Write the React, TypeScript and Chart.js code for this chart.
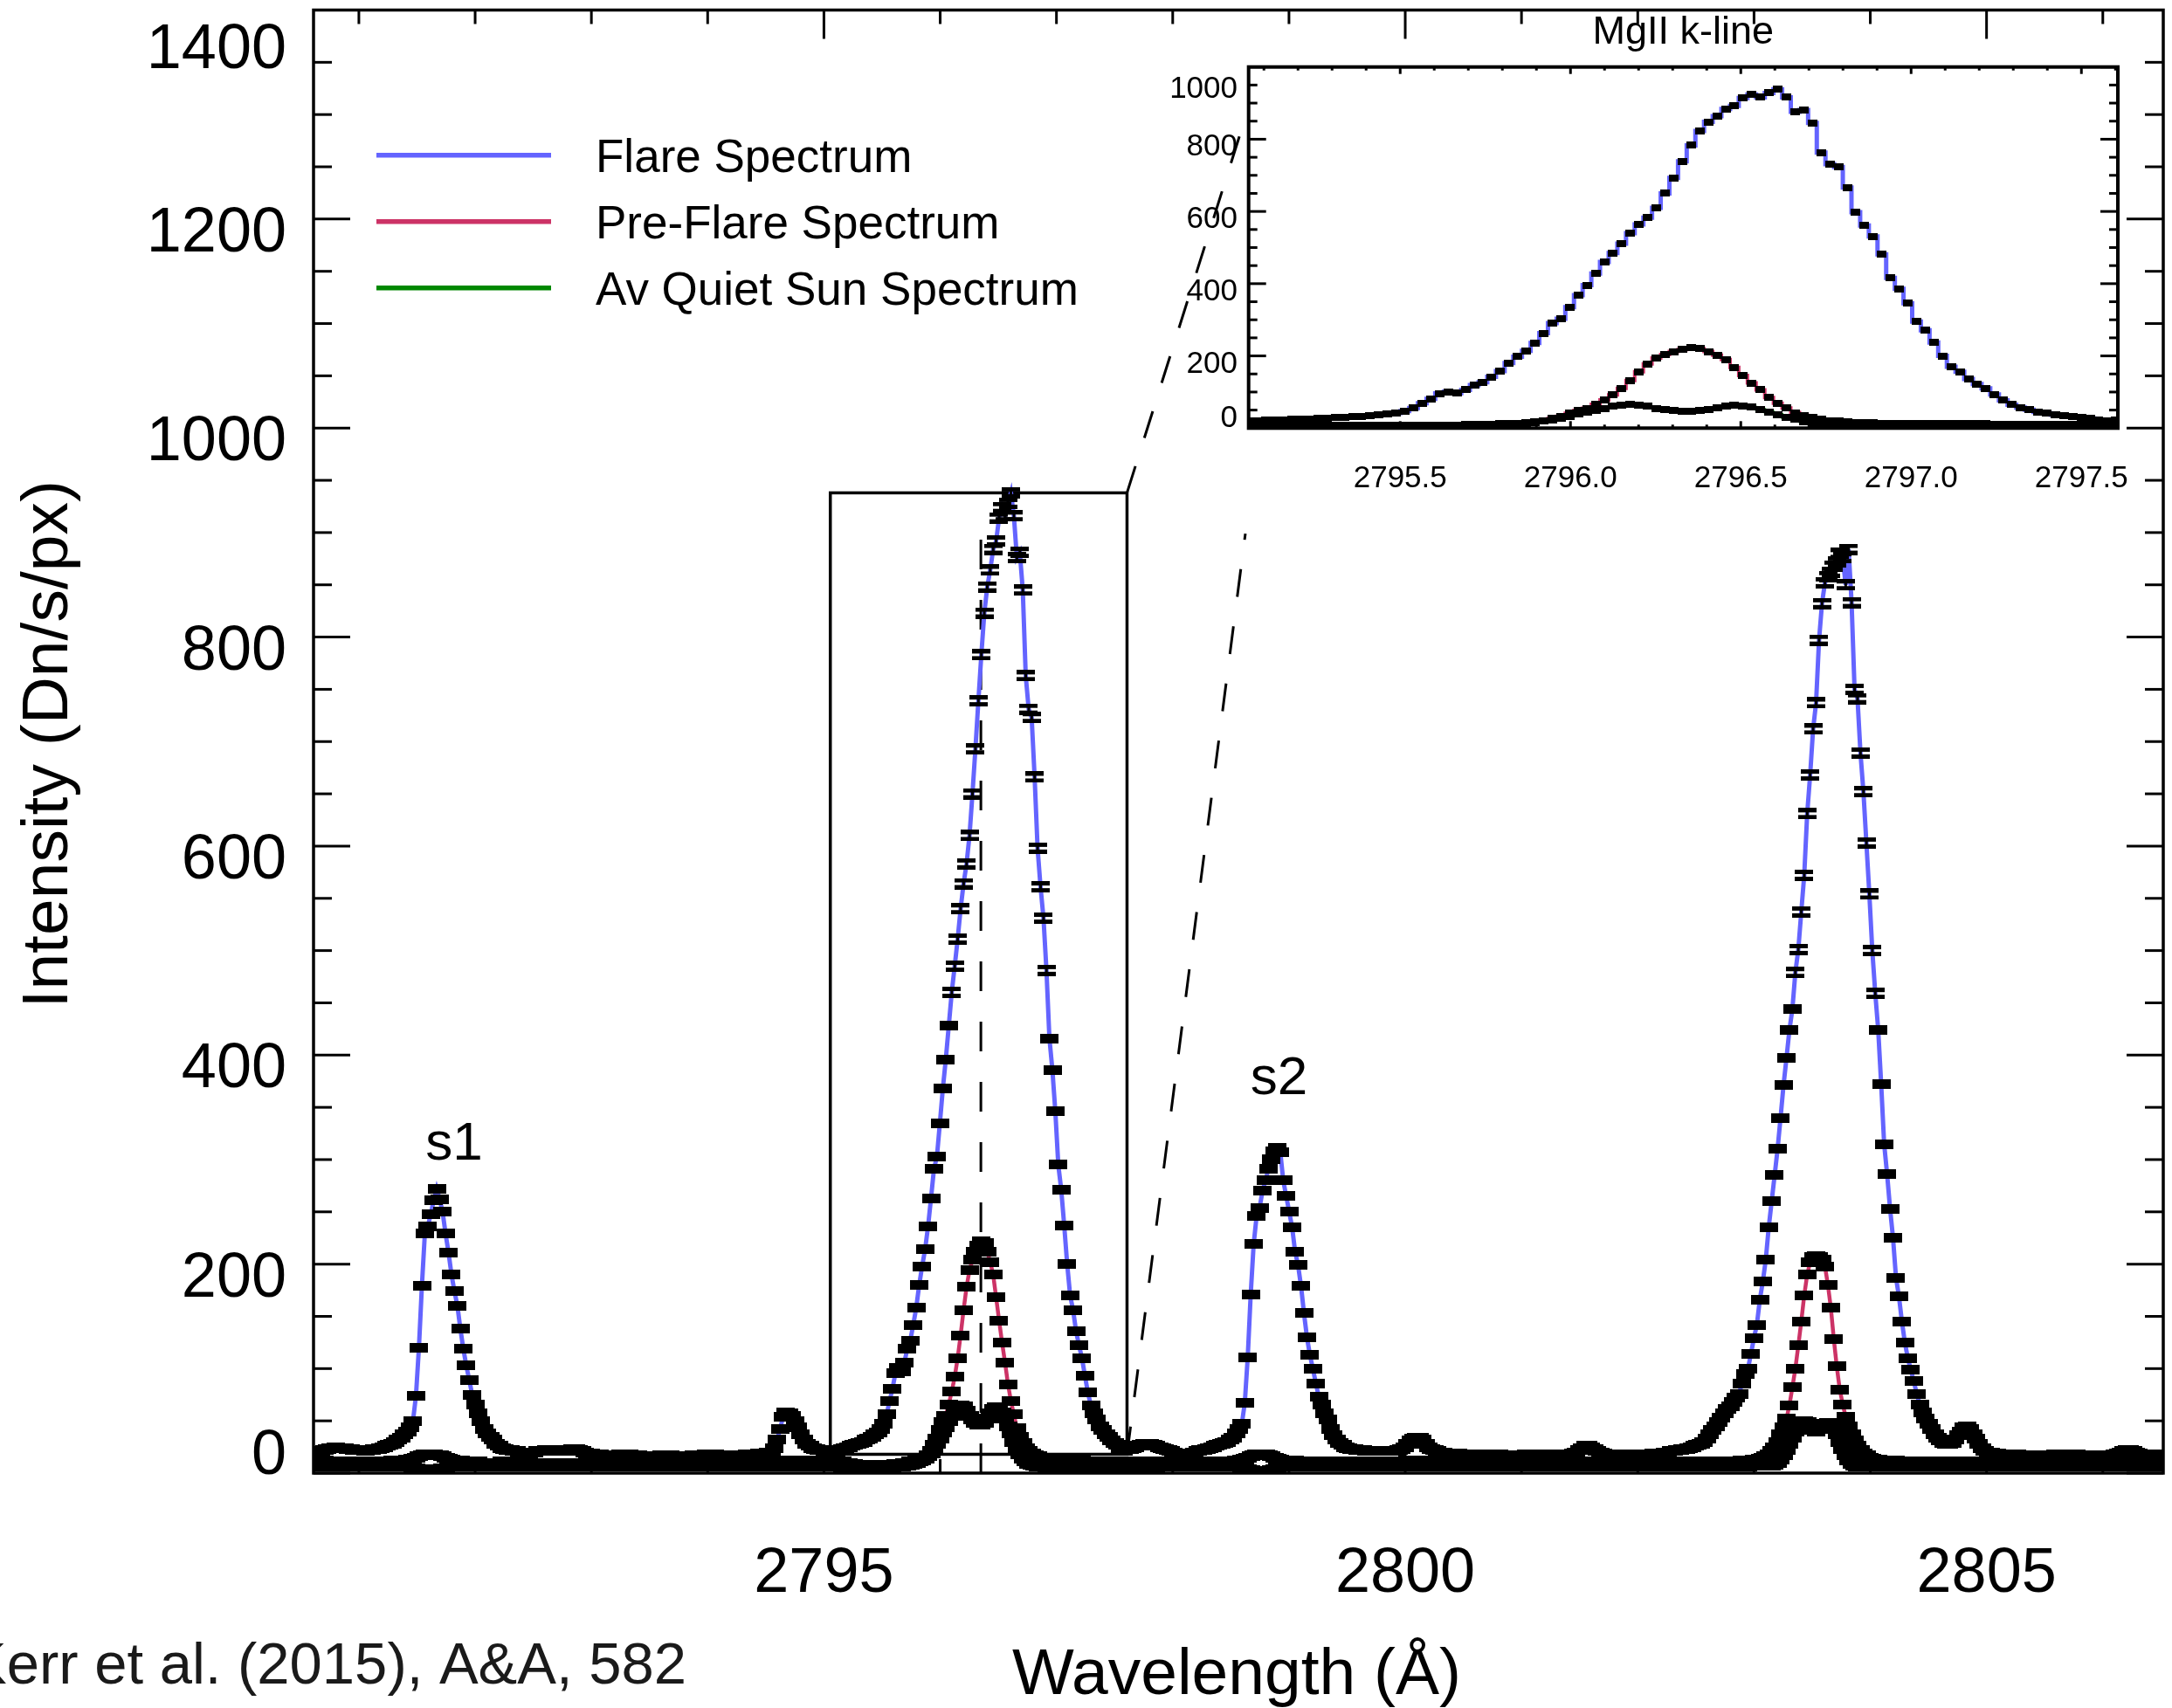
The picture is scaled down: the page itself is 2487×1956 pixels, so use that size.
import React, { useEffect, useRef } from 'react';
import { Chart, registerables } from 'chart.js';

Chart.register(...registerables);

// ---------------- data (IRIS NUV spectral pixels) ----------------
const LAMBDA_START = 2790.6; // Å, wavelength of spectral pixel 0
const LAMBDA_STEP = 0.02546; // Å per spectral pixel

// Flare spectrum, Dn/s/px
const FLARE_BLUE_WING = [18,19,20,21,22,23,24,24,25,24,24,24,23,23,22,22,22,22,21,22,22,23,23,24,25,26,27,28,30,32,34];
const FLARE_S1 = [37,40,44,50,74,120,179,229,236,248,261,272,262,250,229,211,190,174,160,138,119,103,89,75,66,57,50,42,38,35,32,28,26,24,23,22];
const FLARE_MID1 = [
  22,21,21,20,20,20,20,20,20,21,
  21,21,22,22,22,22,21,21,21,22,
  22,23,23,22,21,20,19,19,18,18,
  18,17,17,17,17,17,17,18,18,18,
  18,17,17,17,16,16,16,16,16,16,
  16,17,17,17,17,16,16,16,16,16,
  16,16,17,17,17,17,18,18,18,18,
  17,17,17,17,17,17,17,17,17,17,
  18,18,18,18,19,19,19,20];
const FLARE_BUMP1 = [20,24,32,42,54,58,57,55,50,44,37,32,28,26,24,23,22,22,21,21];
const FLARE_K = [
  21,21,22,22,23,24,25,26,27,28,
  29,30,32,33,35,37,39,42,47,56,
  69,81,96,101,97,106,119,127,142,158,
  180,198,214,236,263,291,303,335,368,396,
  428,460,485,511,540,564,583,610,650,693,
  739,783,823,848,864,884,892,914,924,916,
  928,938,916,876,881,845,763,731,723,666,
  598,561,531,481,416,386,346,295,271,237,
  200,170,156,136,122,110,93,77,65,57,
  51,45,41,37,35,31,29,27,23,21,
  23];
const FLARE_MID2 = [23,24,25,26,27,28,28,28,27,26,25,24,23,22,21,20,19,18,18,18,19,19,20,21,22,22,23,24,25,26,27,28,29,30,32,34,38,42];
const FLARE_S2 = [47,67,111,171,219,246,254,270,280,291,300,308,311,307,280,265,250,235,212,199,179,153,130,113,100,86,73,66,57,51,42,36,32,29,27,25];
const FLARE_MID3 = [24,23,23,22,22,22,21,21,21,21,21,21,21,21,21,21];
const FLARE_BUMP2 = [21,22,23,25,28,31,33,34,34,32,28,25,23,22,21,20];
const FLARE_MID4 = [
  20,19,19,19,19,19,18,18,18,18,
  18,18,18,18,18,18,18,18,18,18,
  17,17,17,17,17,17,17,17,18,18,
  18,18,18,18,18,18,18,18,18,18,
  18,18,18,18];
const FLARE_BUMP3 = [19,20,22,24,26,26,25,23,21,20,19];
const FLARE_MID5 = [18,18,18,18,18,18,18,18,18,18,18,18,18,18,18,18,19,19,19,19,20,20,21,21,22,22,23,23,24,25,26,27];
const FLARE_H = [
  28,30,33,37,41,45,49,53,57,61,
  64,68,72,76,86,95,100,114,129,142,
  166,183,204,235,260,285,310,340,371,397,
  424,444,479,501,537,572,631,668,712,737,
  797,832,852,858,862,868,872,880,876,850,
  884,833,750,741,689,652,603,554,500,459,
  424,372,315,286,253,225,187,169,145,125,
  110,99,88,76,66,58,52,47,42,37,
  34,31,29,28,28,29,32,36,40,44,
  45,42,37,33,28,24,21,20];
const FLARE_RED_WING = [
  20,19,19,18,18,18,18,18,18,18,
  17,17,17,17,17,17,17,17,17,17,
  17,17,18,18,18,18,18,18,18,18,
  17,17,17,17,17,16,16,16,16,16,
  17,17,18,19,20,21,22,22,21,20,
  19,18,18,18,18,18,18,18,18];

// Pre-flare spectrum, Dn/s/px
const PRE_BLUE_WING = [
  11,11,12,12,12,11,11,11,10,10,
  10,10,11,11,11,11,10,10,10,10,
  10,11,11,11,11,11,11,12,12,12,
  12,12,13,13,14,15,16,17,18,18,
  18,18,17,17,16,15,14,13,12,12,
  12,11,11,11,11,11,11,10,10,10,
  10,10,10,10,11,11,11,11,11,11,
  11,11,11,11,10,10,10,10,10,10,
  10,10,10,10,10,10,10,10,10,10,
  10,10,10,10,10,10,10,10,10,10,
  10,10,10,10,10,11,11,11,11,11,
  11,11,11,11,11,11,11,11,11,11,
  11,11,11,11,11,11,11,10,10,10,
  10,10,10,10,10,10,10,10,10,10,
  10,10,10,10,10,10,10,10,11,11,
  11,11,11,11,11,11,11,11,11,12,
  12,12,12,12,12,12,12,12,12,12,
  12,12,12,12,12];
const PRE_K = [
  12,12,12,11,11,10,10,9,9,8,
  8,8,8,8,8,8,8,8,8,8,
  8,8,9,9,9,10,10,11,11,12,
  13,14,15,17,21,27,33,41,49,55,
  66,78,92,110,132,156,178,194,204,212,
  218,222,220,212,202,190,168,146,125,106,
  85,69,56,43,35,29,24,21,19,17,
  16,15,15,14,14,14,13,13,13,13,
  12,12,12,12,12,12,11,11,11,11,
  11,11,11,11,11,11,11,11,11,11,
  11];
const PRE_MID1 = [
  11,11,11,11,11,11,11,11,11,11,
  11,11,11,11,10,10,10,10,10,10,
  10,10,10,10,10,10,10,11,11,11,
  11,11,11,11,11,11,12,12,13,14];
const PRE_S2 = [15,16,17,18,18,18,18,17,16,15,14,13];
const PRE_MID2 = [
  12,12,12,12,12,11,11,11,11,11,
  11,11,11,11,11,11,11,11,11,11,
  11,11,11,11,11,11,11,11,11,11,
  11,11,11,11,11,11,11,11,11,11,
  11,11,12,12,12,12,12,12,11,11,
  11,11,11,11,11,11,11,11,11,11,
  11,11,11,11,11,11,11,11,11,11,
  11,11,11,11,11,11,11,11,11,11,
  11,11,11,11,11,11,11,11,11,11,
  11,11,11,11,11,11,11,11,11,11,
  11,11,11,11,11,11,11,11,11,11,
  11,11,11,11,11,11,11,11,11,11,
  11,11,11,11,11,11,11,11,11,11,
  11,11,11,11,11,11,11,11,11,11,
  11,11,11,11,11,11,11,11,11,11,
  11,11,11,11,11,12,12,12];
const PRE_H = [
  12,13,13,14,15,16,18,21,25,30,
  37,44,52,65,82,100,122,145,170,190,
  202,207,208,207,204,198,180,158,128,102,
  80,66,54,45,37,31,26,22,19,17,
  15,14,13];
const PRE_RED_WING = [
  13,12,12,12,12,12,12,11,11,11,
  11,11,11,11,11,11,11,11,11,11,
  11,11,11,11,11,11,11,11,11,11,
  11,11,11,11,11,11,11,11,11,11,
  11,11,11,11,11,11,11,11,11,11,
  11,11,11,11,11,11,11,11,11,11,
  11,11,11,11,11,11,11,11,11,11,
  11,11,11,11,11,11,11,11,11,11,
  11,11,11,11,11,11,11,11,11,11,
  11,11,11,11,11,11,11];

// Averaged quiet-Sun spectrum, Dn/s/px
const QS_BLUE_WING = [
  6,6,6,6,6,6,6,6,6,6,
  6,6,6,6,6,6,6,6,6,6,
  6,6,6,6,6,6,6,6,6,6,
  6,6,6,6,5,5,4,4,3,3,
  3,3,4,4,5,5,6,6,6,6,
  6,6,6,6,6,6,6,6,6,6,
  6,6,6,6,6,6,6,6,6,6,
  6,6,6,6,6,6,6,6,6,6,
  6,6,6,6,6,6,6,6,6,6,
  6,6,6,6,6,6,6,6,6,6,
  6,6,6,6,6,6,6,6,6,6,
  6,6,6,6,6,6,6,6,6,6,
  6,6,6,6,6,6,6,6,6,6,
  6,6,6,6,6,6,6,6,6,6,
  6,6,6,6,6,6,6,6,6,6,
  6,6,6,6,6,6,6,6,6,6,
  6,6,6,6,6,6,6,6,6,6,
  6,6,6,6,6];
const QS_K = [
  6,6,6,6,5,5,5,5,5,5,
  5,5,5,5,5,5,5,5,5,5,
  5,5,6,6,6,7,7,8,9,10,
  11,12,14,16,19,23,28,33,39,44,
  50,55,60,63,65,64,60,55,51,48,
  46,46,48,52,57,61,63,62,58,52,
  45,38,30,24,18,14,11,9,8,7,
  6,6,6,5,5,5,5,5,5,5,
  5,5,5,5,5,5,5,5,5,5,
  5,5,5,5,5,5,5,5,5,5,
  5];
const QS_MID1 = [
  5,5,5,5,5,5,5,5,5,5,
  6,6,6,6,6,6,6,6,6,6,
  6,6,6,6,6,6,6,6,6,6,
  6,6,6,6,6,6,6,6,5,5];
const QS_S2 = [4,3,2,2,2,2,2,2,3,4,5,6];
const QS_MID2 = [
  6,6,6,6,6,6,6,6,6,6,
  6,6,6,6,6,6,6,6,6,6,
  6,6,6,6,6,6,6,6,6,6,
  6,6,6,6,6,6,6,6,6,6,
  6,6,6,6,6,6,6,6,6,6,
  6,6,6,6,6,6,6,6,6,6,
  6,6,6,6,6,6,6,6,6,6,
  6,6,6,6,6,6,6,6,6,6,
  6,6,6,6,6,6,6,6,6,6,
  6,6,6,6,6,6,6,6,6,6,
  6,6,6,6,6,6,6,6,6,6,
  6,6,6,6,6,6,6,6,6,6,
  6,6,6,6,6,6,6,6,6,6,
  6,6,6,6,6,6,6,6,6,6,
  6,6,6,6,6,6,6,6,6,6,
  6,6,6,6,6,6,6,6];
const QS_H = [
  7,7,7,7,7,7,7,7,8,10,
  13,17,22,28,34,40,45,48,50,49,
  45,41,40,42,45,47,48,47,43,37,
  30,23,17,12,9,7,6,6,6,6,
  6,6,6];
const QS_RED_WING = [
  6,6,6,6,6,6,6,6,6,6,
  6,6,6,6,6,6,6,6,6,6,
  6,6,6,6,6,6,6,6,6,6,
  6,6,6,6,6,6,6,6,6,6,
  6,6,6,6,6,6,6,6,6,6,
  6,6,6,6,6,6,6,6,6,6,
  6,6,6,6,6,6,6,6,6,6,
  6,6,6,6,6,6,6,6,6,6,
  6,6,6,6,6,6,6,6,6,6,
  6,6,6,6,6,6,6];

// [first spectral pixel, values]
const FLARE_SEGMENTS: [number, number[]][] = [
  [0, FLARE_BLUE_WING], [31, FLARE_S1], [67, FLARE_MID1], [155, FLARE_BUMP1], [175, FLARE_K],
  [276, FLARE_MID2], [314, FLARE_S2], [350, FLARE_MID3], [366, FLARE_BUMP2], [382, FLARE_MID4],
  [426, FLARE_BUMP3], [437, FLARE_MID5], [469, FLARE_H], [567, FLARE_RED_WING],
];
const PRE_SEGMENTS: [number, number[]][] = [
  [0, PRE_BLUE_WING], [175, PRE_K], [276, PRE_MID1], [316, PRE_S2], [328, PRE_MID2], [486, PRE_H], [529, PRE_RED_WING],
];
const QS_SEGMENTS: [number, number[]][] = [
  [0, QS_BLUE_WING], [175, QS_K], [276, QS_MID1], [316, QS_S2], [328, QS_MID2], [486, QS_H], [529, QS_RED_WING],
];

const SERIES_NAMES = ['Flare Spectrum', 'Pre-Flare Spectrum', 'Av Quiet Sun Spectrum'];
const MAIN_X_TICKS = [2795, 2800, 2805];
const MAIN_Y_TICKS = [0, 200, 400, 600, 800, 1000, 1200, 1400];
const INSET_X_TICKS = [2795.5, 2796.0, 2796.5, 2797.0, 2797.5];
const INSET_X_LABELS = ['2795.5', '2796.0', '2796.5', '2797.0', '2797.5'];
const INSET_Y_TICKS = [0, 200, 400, 600, 800, 1000];
const MAIN_RANGE = { xMin: 2790.61, xMax: 2806.52, yMin: 0, yMax: 1400 };
const INSET_RANGE = { xMin: 2795.055, xMax: 2797.607, yMin: 0, yMax: 1000 };
const ZOOM_BOX = { x0: 2795.055, x1: 2797.607, y0: 18, y1: 938 };
const LINE_CENTER = { x: 2796.35, yTop: 918 };
const LINK_ENDS = [{ x: 2798.61, y: 1292 }, { x: 2798.625, y: 899 }];
const PEAK_LABELS = [{ text: 's1', x: 2791.82, y: 300 }, { text: 's2', x: 2798.915, y: 363 }];

// ---------------- styling ----------------
const FONT = "'Liberation Sans', Arial, Helvetica, sans-serif";
const COLORS = ['#6464ff', '#cc3366', '#008800'];

function toPoints(segments: [number, number[]][]) {
  const pts: { x: number; y: number }[] = [];
  for (const [start, values] of segments) {
    values.forEach((v, j) => pts.push({ x: LAMBDA_START + (start + j) * LAMBDA_STEP, y: v }));
  }
  return pts;
}

function makeBar(w: number, h: number) {
  const c = document.createElement('canvas');
  c.width = w; c.height = h;
  const g = c.getContext('2d')!;
  g.fillStyle = '#000';
  g.fillRect(0, 0, w, h);
  return c;
}

function makeEq(w: number, bar: number, gap: number) {
  const c = document.createElement('canvas');
  c.width = w; c.height = bar * 2 + gap;
  const g = c.getContext('2d')!;
  g.fillStyle = '#000';
  g.fillRect(0, 0, w, bar);
  g.fillRect(0, bar + gap, w, bar);
  g.fillRect(Math.floor(w / 2) - 1, 0, 3, c.height);
  return c;
}

function seg(ctx: CanvasRenderingContext2D, x0: number, y0: number, x1: number, y1: number) {
  ctx.beginPath();
  ctx.moveTo(x0, y0);
  ctx.lineTo(x1, y1);
  ctx.stroke();
}

const mainDecor = {
  id: 'mainDecor',
  beforeDatasetsDraw(chart: any) {
    const { ctx, chartArea: a } = chart;
    const xs = chart.scales.x;
    const ys = chart.scales.y;
    ctx.save();
    ctx.strokeStyle = '#000';
    ctx.fillStyle = '#000';
    ctx.lineCap = 'butt';

    // frame + inward ticks
    ctx.lineWidth = 3.5;
    ctx.strokeRect(a.left, a.top, a.right - a.left, a.bottom - a.top);
    ctx.lineWidth = 3;
    for (let w = Math.ceil(xs.min); w <= xs.max; w += 1) {
      const px = xs.getPixelForValue(w);
      const len = MAIN_X_TICKS.includes(w) ? 33 : 16;
      seg(ctx, px, a.bottom, px, a.bottom - len);
      seg(ctx, px, a.top, px, a.top + len);
    }
    for (let v = ys.min; v <= ys.max; v += 50) {
      const py = ys.getPixelForValue(v);
      const len = MAIN_Y_TICKS.includes(v) ? 42 : 21;
      seg(ctx, a.left, py, a.left + len, py);
      seg(ctx, a.right, py, a.right - len, py);
    }

    // tick labels
    ctx.font = `72px ${FONT}`;
    ctx.textBaseline = 'alphabetic';
    ctx.textAlign = 'center';
    MAIN_X_TICKS.forEach((w) => ctx.fillText(String(w), xs.getPixelForValue(w), a.bottom + 136));
    ctx.textAlign = 'right';
    MAIN_Y_TICKS.forEach((v, k) => {
      const nudge = k === 0 ? -25 : k === MAIN_Y_TICKS.length - 1 ? 40 : 11;
      ctx.fillText(String(v), a.left - 31, ys.getPixelForValue(v) + nudge + 26);
    });

    // axis titles
    ctx.font = `75px ${FONT}`;
    ctx.textAlign = 'center';
    ctx.fillText('Wavelength (Å)', (a.left + a.right) / 2 - 2, a.bottom + 253);
    ctx.save();
    ctx.translate(77, (a.top + a.bottom) / 2 + 3);
    ctx.rotate(-Math.PI / 2);
    ctx.fillText('Intensity (Dn/s/px)', 0, 0);
    ctx.restore();

    // citation
    ctx.font = `67px ${FONT}`;
    ctx.textAlign = 'right';
    ctx.fillStyle = '#1a1a1a';
    ctx.fillText('Kerr et al. (2015), A&A, 582', 786, 1928);
    ctx.fillStyle = '#000';

    // legend
    ctx.font = `53px ${FONT}`;
    ctx.textAlign = 'left';
    SERIES_NAMES.forEach((name, k) => {
      const y = 177.7 + k * 76;
      ctx.strokeStyle = COLORS[k];
      ctx.lineWidth = 5.5;
      seg(ctx, 431, y, 631, y);
      ctx.fillText(name, 682, y + 19);
    });
    ctx.strokeStyle = '#000';

    // peak labels
    ctx.font = `62px ${FONT}`;
    ctx.textAlign = 'center';
    PEAK_LABELS.forEach((p) => ctx.fillText(p.text, xs.getPixelForValue(p.x), ys.getPixelForValue(p.y)));

    // zoom box
    const bx0 = xs.getPixelForValue(ZOOM_BOX.x0);
    const bx1 = xs.getPixelForValue(ZOOM_BOX.x1);
    const by0 = ys.getPixelForValue(ZOOM_BOX.y0);
    const by1 = ys.getPixelForValue(ZOOM_BOX.y1);
    ctx.lineWidth = 3.5;
    ctx.strokeRect(bx0, by1, bx1 - bx0, by0 - by1);

    // dashed connectors to the inset
    ctx.lineWidth = 3;
    ctx.setLineDash([32, 34]);
    seg(ctx, bx1, by1, xs.getPixelForValue(LINK_ENDS[0].x), ys.getPixelForValue(LINK_ENDS[0].y));
    seg(ctx, bx1, by0, xs.getPixelForValue(LINK_ENDS[1].x), ys.getPixelForValue(LINK_ENDS[1].y));

    // dashed line at the k-line centre
    ctx.setLineDash([34, 35]);
    const lx = xs.getPixelForValue(LINE_CENTER.x);
    seg(ctx, lx, ys.getPixelForValue(0), lx, ys.getPixelForValue(LINE_CENTER.yTop));
    ctx.setLineDash([]);
    ctx.restore();
  },
};

const insetDecor = {
  id: 'insetDecor',
  beforeDatasetsDraw(chart: any) {
    const { ctx, chartArea: a } = chart;
    const xs = chart.scales.x;
    const ys = chart.scales.y;
    ctx.save();
    ctx.strokeStyle = '#000';
    ctx.fillStyle = '#000';
    ctx.lineWidth = 4;
    ctx.strokeRect(a.left, a.top, a.right - a.left, a.bottom - a.top);
    ctx.lineWidth = 3;
    for (let k = Math.ceil(xs.min * 10); k <= Math.floor(xs.max * 10); k++) {
      const px = xs.getPixelForValue(k / 10);
      const len = k % 5 === 0 ? 8 : 4;
      seg(ctx, px, a.bottom, px, a.bottom - len);
      seg(ctx, px, a.top, px, a.top + len);
    }
    for (let v = ys.min; v <= ys.max; v += 50) {
      const py = ys.getPixelForValue(v);
      const len = INSET_Y_TICKS.includes(v) ? 20 : 10;
      seg(ctx, a.left, py, a.left + len, py);
      seg(ctx, a.right, py, a.right - len, py);
    }
    ctx.font = `35px ${FONT}`;
    ctx.textBaseline = 'alphabetic';
    ctx.textAlign = 'center';
    INSET_X_TICKS.forEach((w, k) => ctx.fillText(INSET_X_LABELS[k], xs.getPixelForValue(w), a.bottom + 67.7));
    ctx.textAlign = 'right';
    INSET_Y_TICKS.forEach((v, k) => {
      const nudge = k === 0 ? -13.5 : k === INSET_Y_TICKS.length - 1 ? 23 : 6.5;
      ctx.fillText(String(v), a.left - 12.7, ys.getPixelForValue(v) + nudge + 12.5);
    });
    ctx.font = `45px ${FONT}`;
    ctx.textAlign = 'center';
    ctx.fillText('MgII k-line', (a.left + a.right) / 2, 49.8);
    ctx.restore();
  },
};

export default function App() {
  const mainRef = useRef<HTMLCanvasElement>(null);
  const insetRef = useRef<HTMLCanvasElement>(null);

  useEffect(() => {
    const bar = makeBar(21, 11);
    const eq = makeEq(21, 5, 3);
    const dot = makeBar(11, 8);
    const series = [toPoints(FLARE_SEGMENTS), toPoints(PRE_SEGMENTS), toPoints(QS_SEGMENTS)];
    const inK = (p: { x: number }) => p.x >= INSET_RANGE.xMin - 1e-6 && p.x <= INSET_RANGE.xMax + 1e-6;
    const insetSeries = series.map((s) => s.filter(inK));
    const widths = [5, 4.5, 4];

    const mainLines = series.map((data, k) => ({
      type: 'line', data, borderColor: COLORS[k], borderWidth: widths[k], pointRadius: 0,
      tension: 0, fill: false, order: 3 + k,
    }));
    const mainMarks = series.map((data) => ({
      type: 'line', data, showLine: false, pointRadius: 6, pointHoverRadius: 6,
      pointStyle: (c: any) => (c.raw && c.raw.y > 450 ? eq : bar), order: 0,
    }));

    const main = new Chart(mainRef.current!, {
      type: 'line',
      data: { datasets: [...mainMarks, ...mainLines] as any },
      options: {
        responsive: false, animation: false, devicePixelRatio: 1, events: [],
        layout: { padding: { left: 359, top: 11.5, right: 10, bottom: 269 } },
        scales: {
          x: { type: 'linear', min: MAIN_RANGE.xMin, max: MAIN_RANGE.xMax, display: false },
          y: { type: 'linear', min: MAIN_RANGE.yMin, max: MAIN_RANGE.yMax, display: false },
        },
        plugins: { legend: { display: false }, tooltip: { enabled: false } },
      },
      plugins: [mainDecor],
    } as any);

    const insetWidths = [5, 4, 3];
    const insetLines = insetSeries.map((data, k) => ({
      type: 'line', data, borderColor: COLORS[k], borderWidth: insetWidths[k], pointRadius: 0,
      stepped: 'middle', fill: false, order: 3 + k,
    }));
    const insetMarks = insetSeries.map((data) => ({
      type: 'line', data, showLine: false, pointRadius: 4, pointHoverRadius: 4, pointStyle: dot, order: 0,
    }));

    const inset = new Chart(insetRef.current!, {
      type: 'line',
      data: { datasets: [...insetMarks, ...insetLines] as any },
      options: {
        responsive: false, animation: false, devicePixelRatio: 1, events: [],
        layout: { padding: { left: 129.7, top: 76.7, right: 62, bottom: 149.7 } },
        scales: {
          x: { type: 'linear', min: INSET_RANGE.xMin, max: INSET_RANGE.xMax, display: false },
          y: { type: 'linear', min: INSET_RANGE.yMin, max: INSET_RANGE.yMax, display: false },
        },
        plugins: { legend: { display: false }, tooltip: { enabled: false } },
      },
      plugins: [insetDecor],
    } as any);

    return () => {
      main.destroy();
      inset.destroy();
    };
  }, []);

  return (
    <div style={{ position: 'absolute', left: 0, top: 0, width: 2487, height: 1956, background: '#fff', overflow: 'hidden' }}>
      <canvas ref={mainRef} width={2487} height={1956} style={{ position: 'absolute', left: 0, top: 0 }} />
      <canvas ref={insetRef} width={1187} height={640} style={{ position: 'absolute', left: 1300, top: 0 }} />
    </div>
  );
}
